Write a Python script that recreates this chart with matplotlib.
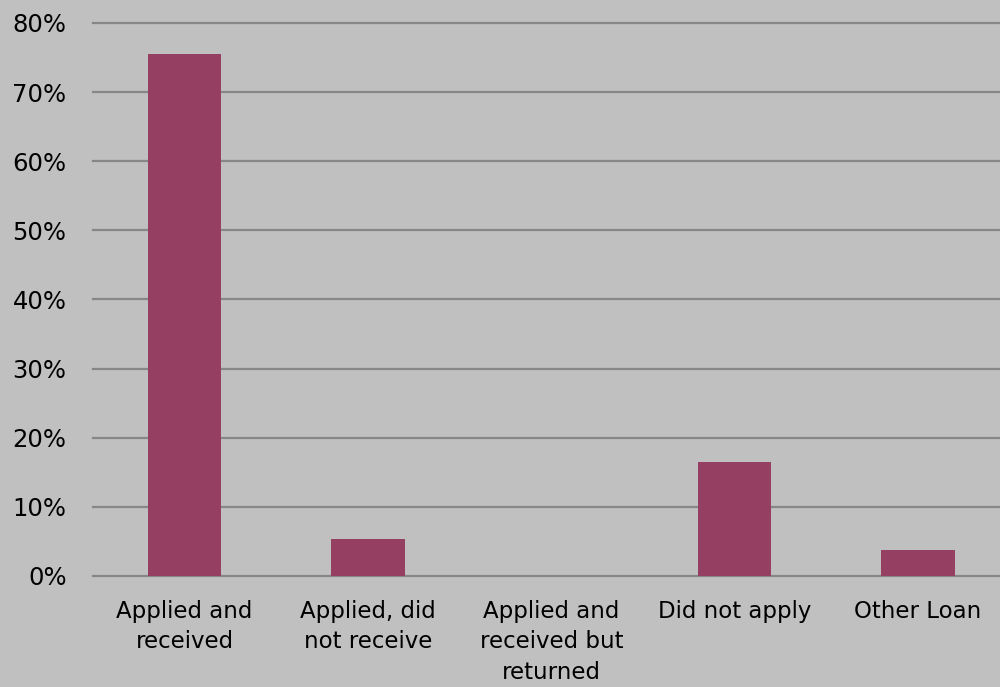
import matplotlib
matplotlib.use("Agg")
import matplotlib.pyplot as plt
from matplotlib.ticker import FuncFormatter

categories = ["Applied and\nreceived", "Applied, did\nnot receive",
              "Applied and\nreceived but\nreturned", "Did not apply", "Other Loan"]
values = [75.5, 5.3, 0.0, 16.5, 3.8]
yticks = [0, 10, 20, 30, 40, 50, 60, 70, 80]

bg = "#c0c0c0"
bar_color = "#953f63"
grid_color = "#878787"

plt.rcParams['font.family'] = ['DejaVu Sans']
fig = plt.figure(figsize=(10, 6.87), dpi=100, facecolor=bg)
ax = fig.add_axes([0.093, 0.1616, 0.9166, 0.805])
ax.set_facecolor(bg)

x = list(range(len(categories)))
ax.bar(x, values, width=0.40, color=bar_color, zorder=3)

ax.set_xlim(-0.5, len(categories) - 0.5)
ax.set_ylim(0, 80)
ax.set_yticks(yticks)
ax.yaxis.set_major_formatter(FuncFormatter(lambda v, p: f"{int(v)}%"))
ax.set_xticks(x)
ax.set_xticklabels(categories, fontsize=16.5, linespacing=1.4)
ax.tick_params(axis='y', labelsize=17.5, length=0, pad=19)
ax.tick_params(axis='x', length=0, pad=17.5)

ax.grid(axis='y', color=grid_color, linewidth=1.6, zorder=0)
ax.grid(axis='x', visible=False)
for gl in ax.get_ygridlines():
    gl.set_clip_on(False)
for s in ax.spines.values():
    s.set_visible(False)

fig.savefig("out.png", dpi=100, facecolor=bg)
